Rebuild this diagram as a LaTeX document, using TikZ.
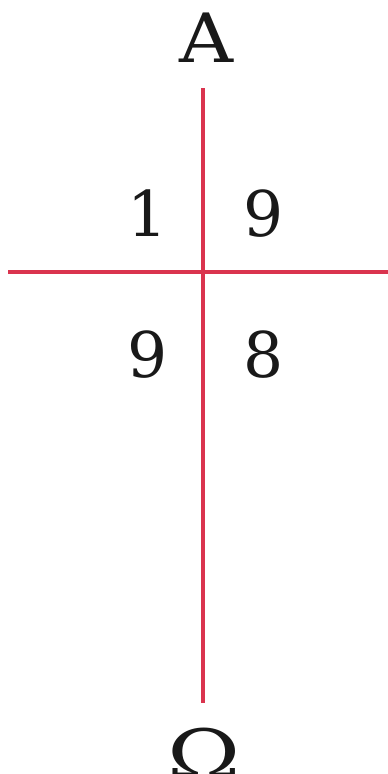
\documentclass[tikz,border=0pt]{standalone}
\usepackage{fontspec}
\setmainfont{DejaVu Serif}
\definecolor{crossred}{RGB}{218,52,78}
\begin{document}
\begin{tikzpicture}[x=1pt,y=-1pt,
  bar/.style={draw=crossred,line width=3.6pt},
  big/.style={inner sep=0pt,anchor=base,text=black!90,font=\fontsize{63}{63}\selectfont},
  greek/.style={inner sep=0pt,anchor=base,text=black!90,font=\fontsize{68}{68}\selectfont}]
\useasboundingbox (0,0) rectangle (388,774);
\fill[white] (0,0) rectangle (388,774);
\coordinate (vtop) at (203,88);
\coordinate (vbot) at (203,703);
\coordinate (hleft) at (8,272);
\coordinate (hright) at (388,272);
\draw[bar] (vtop) -- (vbot);
\draw[bar] (hleft) -- (hright);
\node[greek,xscale=1.1] (alpha) at (207,62) {A};
\node[greek,xscale=1.3] (omega) at (204,778) {Ω};
\node[big] (n1) at (148,236) {1};
\node[big] (n2) at (264,236) {9};
\node[big] (n3) at (148,377) {9};
\node[big] (n4) at (264,377) {8};
\end{tikzpicture}
\end{document}
